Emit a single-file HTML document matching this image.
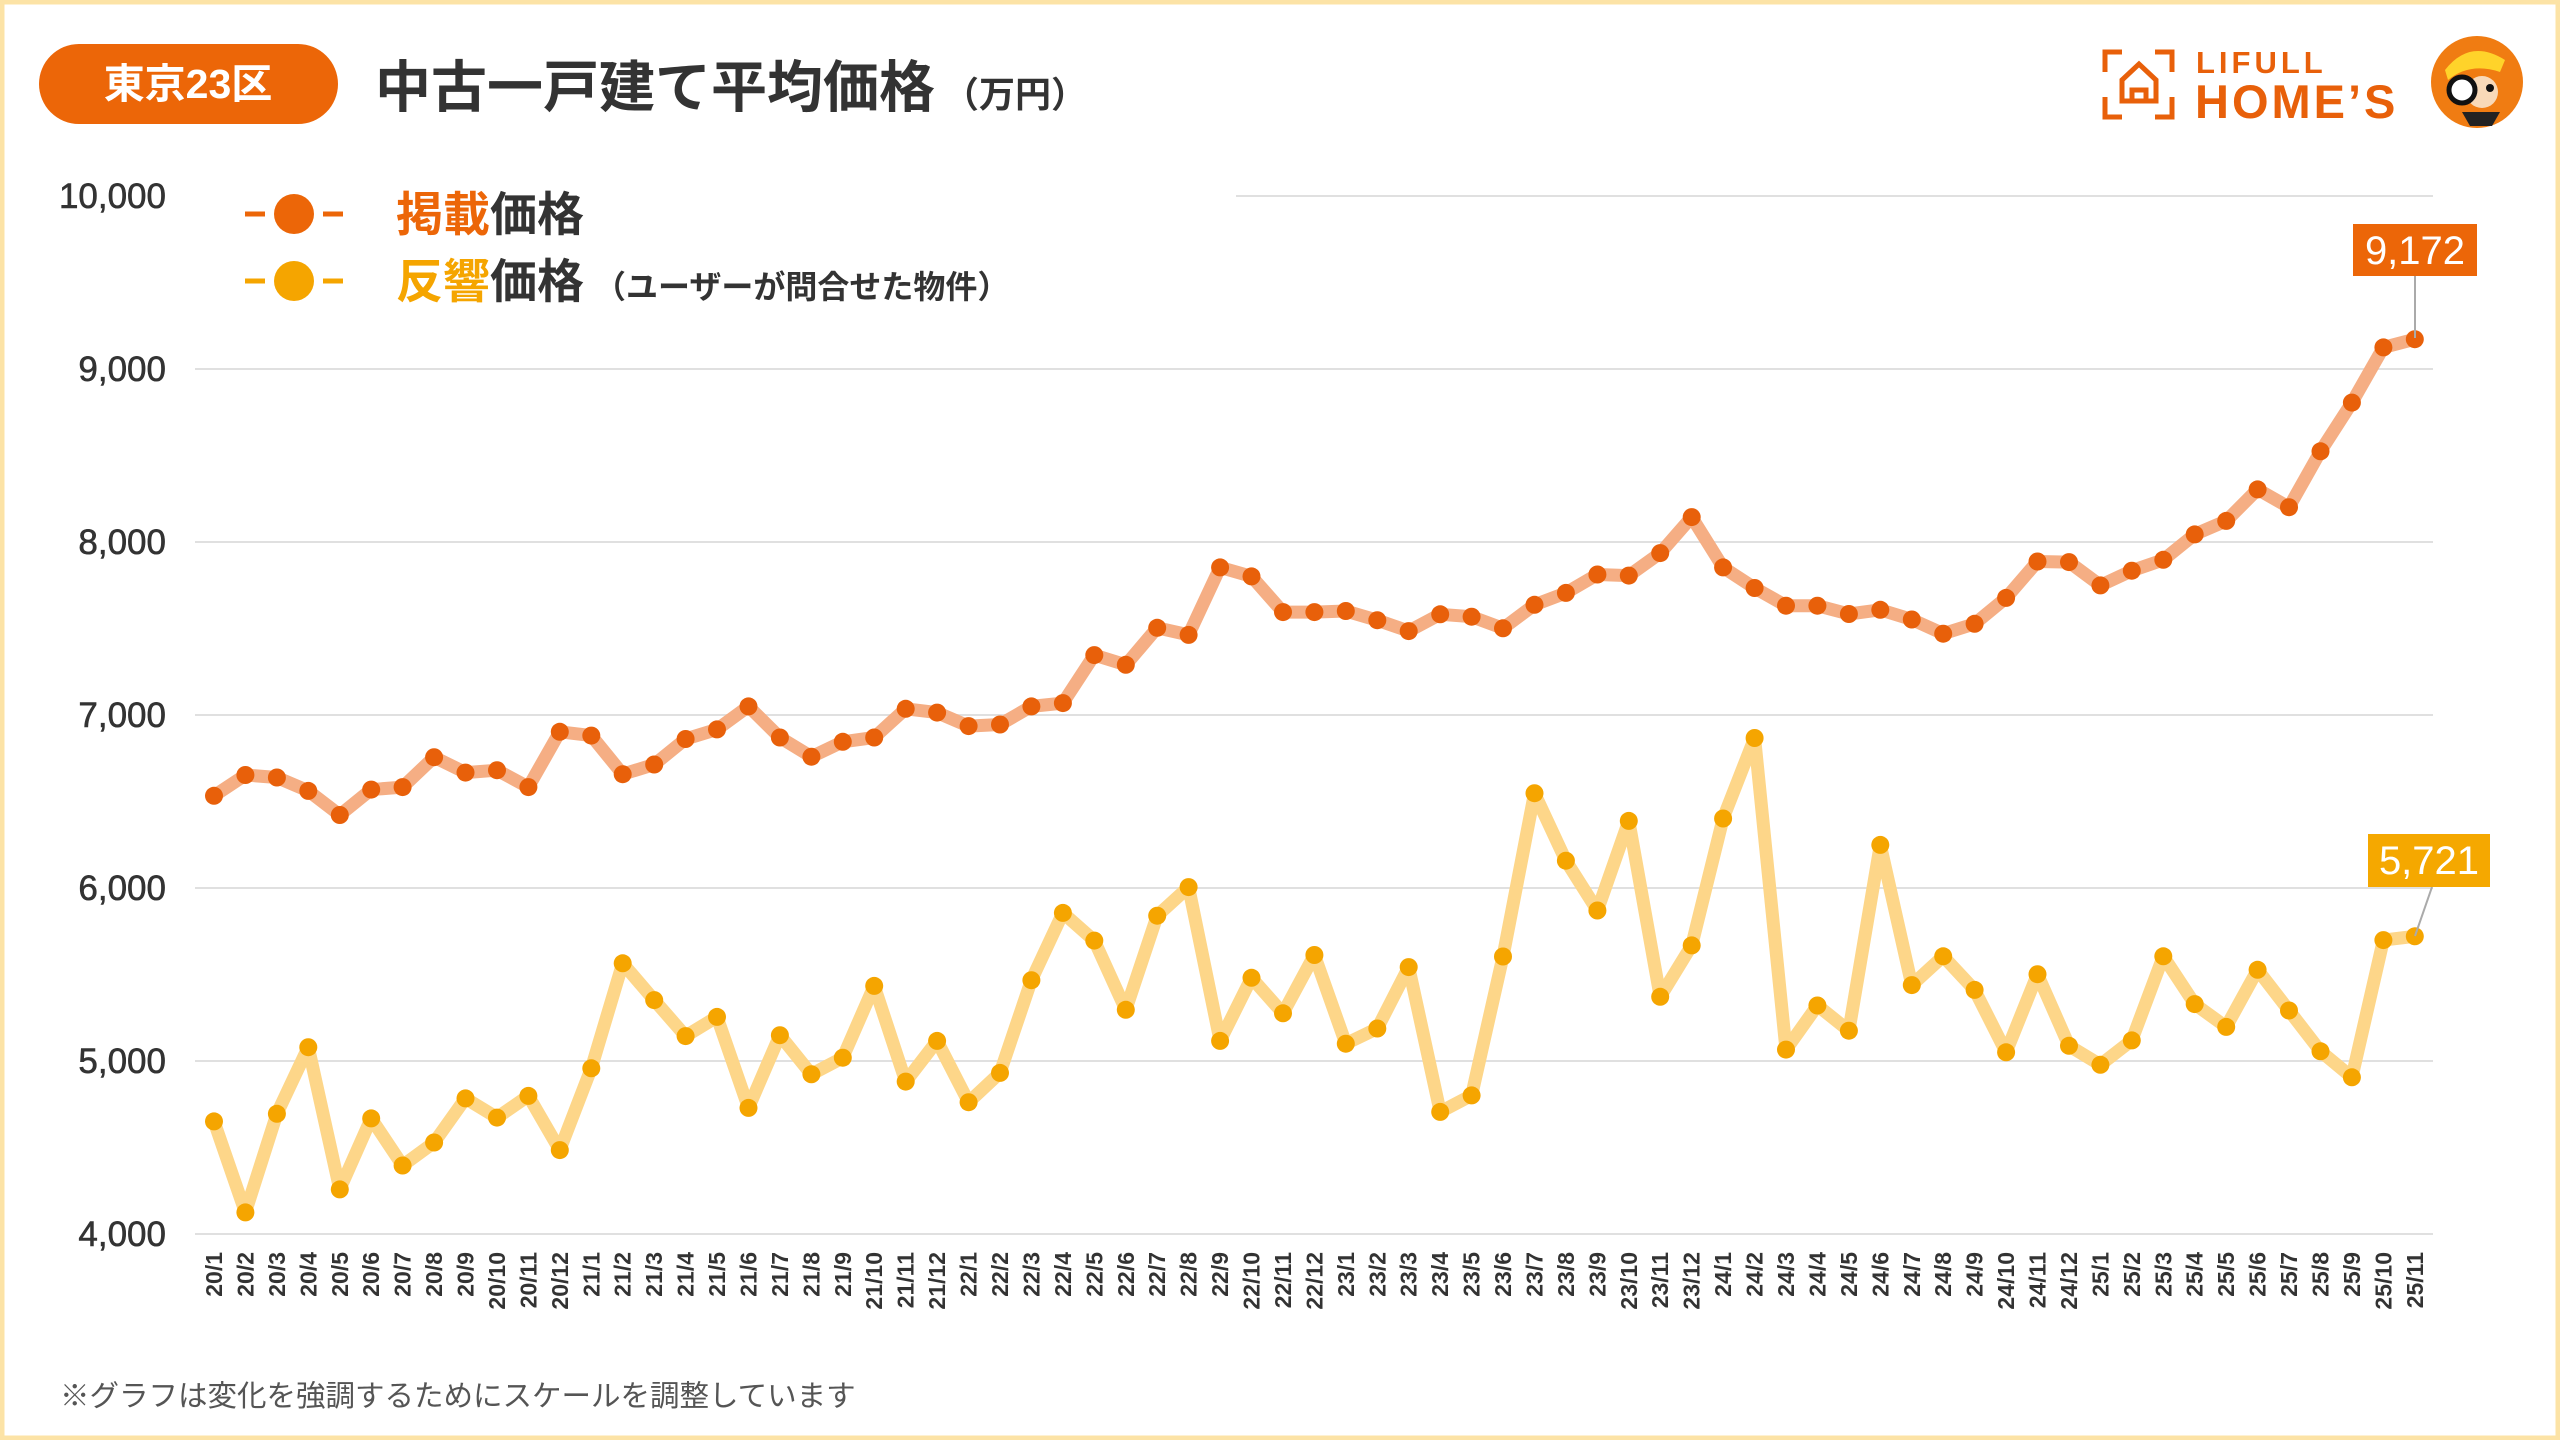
<!DOCTYPE html>
<html><head><meta charset="utf-8">
<style>
html,body{margin:0;padding:0;background:#fff;}
svg{display:block;}
.jp{font-family:"Liberation Sans","Noto Sans CJK JP",sans-serif;}
</style></head>
<body>
<svg width="2560" height="1440" viewBox="0 0 2560 1440" xmlns="http://www.w3.org/2000/svg">
<rect x="2" y="2" width="2556" height="1436" fill="#fff" stroke="#FCE3A6" stroke-width="5"/>
<!-- header -->
<rect x="39" y="44" width="299" height="80" rx="40" fill="#EC6608"/>
<text x="188" y="98" text-anchor="middle" class="jp" font-size="41" font-weight="bold" fill="#fff">東京23区</text>
<text x="375" y="107" class="jp" font-size="56" font-weight="bold" fill="#333">中古一戸建て平均価格<tspan font-size="36" dx="8">（万円）</tspan></text>
<!-- logo -->
<g fill="none" stroke="#E8600A" stroke-width="5">
<path d="M2105 72 V52 H2122"/><path d="M2155 52 H2172 V72"/>
<path d="M2105 97 V117 H2122"/><path d="M2155 117 H2172 V97"/>
<path d="M2122 101 V80 L2139 64 L2156 80 V101 Z"/>
<path d="M2132 101 V90 H2146 V101"/>
</g>
<text x="2196" y="73" font-family="Liberation Sans,sans-serif" font-size="31" font-weight="bold" fill="#E8600A" letter-spacing="4">LIFULL</text>
<text x="2195" y="118" font-family="Liberation Sans,sans-serif" font-size="47" font-weight="bold" fill="#E8600A" letter-spacing="3">HOME’S</text>
<circle cx="2477" cy="82" r="46" fill="#F07C12"/>
<path d="M2445 70 Q2470 38 2505 60 L2500 72 Q2470 62 2448 80 Z" fill="#FFD32A"/>
<circle cx="2482" cy="92" r="16" fill="#F8D9B8"/>
<circle cx="2462" cy="90" r="13" fill="#fff" stroke="#111" stroke-width="5"/>
<circle cx="2490" cy="88" r="4" fill="#111"/>
<path d="M2462 112 L2500 112 L2492 126 L2470 126 Z" fill="#222"/>
<!-- grid -->
<g stroke="#E0E0E0" stroke-width="2">
<line x1="1236" y1="196" x2="2433" y2="196"/>
<line x1="195" y1="369" x2="2433" y2="369"/>
<line x1="195" y1="542" x2="2433" y2="542"/>
<line x1="195" y1="715" x2="2433" y2="715"/>
<line x1="195" y1="888" x2="2433" y2="888"/>
<line x1="195" y1="1061" x2="2433" y2="1061"/>
<line x1="195" y1="1234" x2="2433" y2="1234"/>
</g>
<g font-family="Liberation Sans,sans-serif" font-size="35" fill="#333" stroke="#333" stroke-width="0.6" text-anchor="end">
<text x="166" y="208">10,000</text>
<text x="166" y="381">9,000</text>
<text x="166" y="554">8,000</text>
<text x="166" y="727">7,000</text>
<text x="166" y="900">6,000</text>
<text x="166" y="1073">5,000</text>
<text x="166" y="1246">4,000</text>
</g>
<!-- legend -->
<g stroke-width="5">
<line x1="245" y1="214" x2="265" y2="214" stroke="#EC6608"/><line x1="323" y1="214" x2="343" y2="214" stroke="#EC6608"/>
<line x1="245" y1="281" x2="265" y2="281" stroke="#F5A500"/><line x1="323" y1="281" x2="343" y2="281" stroke="#F5A500"/>
</g>
<circle cx="294" cy="214" r="20" fill="#EC6608"/>
<circle cx="294" cy="281" r="20" fill="#F5A500"/>
<text x="396" y="231" class="jp" font-size="47" font-weight="bold" fill="#333"><tspan fill="#EC6608">掲載</tspan>価格</text>
<text x="396" y="298" class="jp" font-size="47" font-weight="bold" fill="#333"><tspan fill="#F5A500">反響</tspan>価格<tspan font-size="32" dx="10">（ユーザーが問合せた物件）</tspan></text>
<!-- series -->
<g id="series"></g>
<!-- labels -->
<line x1="2415" y1="276" x2="2415" y2="338" stroke="#aaa" stroke-width="2"/>
<rect x="2353" y="224" width="124" height="52" fill="#EC6608"/>
<text x="2415" y="264" text-anchor="middle" font-family="Liberation Sans,sans-serif" font-size="40" fill="#fff">9,172</text>
<line x1="2432" y1="887" x2="2415" y2="936" stroke="#aaa" stroke-width="2"/>
<rect x="2368" y="834" width="122" height="53" fill="#F5A800"/>
<text x="2429" y="874" text-anchor="middle" font-family="Liberation Sans,sans-serif" font-size="40" fill="#fff">5,721</text>
<!-- x labels -->
<g font-family="Liberation Sans,sans-serif" font-size="23" font-weight="bold" fill="#333" text-anchor="end">
<text transform="translate(214,1252) rotate(-90)" dy="8">20/1</text>
<text transform="translate(245.4,1252) rotate(-90)" dy="8">20/2</text>
<text transform="translate(276.9,1252) rotate(-90)" dy="8">20/3</text>
<text transform="translate(308.3,1252) rotate(-90)" dy="8">20/4</text>
<text transform="translate(339.8,1252) rotate(-90)" dy="8">20/5</text>
<text transform="translate(371.2,1252) rotate(-90)" dy="8">20/6</text>
<text transform="translate(402.6,1252) rotate(-90)" dy="8">20/7</text>
<text transform="translate(434.1,1252) rotate(-90)" dy="8">20/8</text>
<text transform="translate(465.5,1252) rotate(-90)" dy="8">20/9</text>
<text transform="translate(497,1252) rotate(-90)" dy="8">20/10</text>
<text transform="translate(528.4,1252) rotate(-90)" dy="8">20/11</text>
<text transform="translate(559.8,1252) rotate(-90)" dy="8">20/12</text>
<text transform="translate(591.3,1252) rotate(-90)" dy="8">21/1</text>
<text transform="translate(622.7,1252) rotate(-90)" dy="8">21/2</text>
<text transform="translate(654.2,1252) rotate(-90)" dy="8">21/3</text>
<text transform="translate(685.6,1252) rotate(-90)" dy="8">21/4</text>
<text transform="translate(717,1252) rotate(-90)" dy="8">21/5</text>
<text transform="translate(748.5,1252) rotate(-90)" dy="8">21/6</text>
<text transform="translate(779.9,1252) rotate(-90)" dy="8">21/7</text>
<text transform="translate(811.4,1252) rotate(-90)" dy="8">21/8</text>
<text transform="translate(842.8,1252) rotate(-90)" dy="8">21/9</text>
<text transform="translate(874.2,1252) rotate(-90)" dy="8">21/10</text>
<text transform="translate(905.7,1252) rotate(-90)" dy="8">21/11</text>
<text transform="translate(937.1,1252) rotate(-90)" dy="8">21/12</text>
<text transform="translate(968.6,1252) rotate(-90)" dy="8">22/1</text>
<text transform="translate(1000,1252) rotate(-90)" dy="8">22/2</text>
<text transform="translate(1031.4,1252) rotate(-90)" dy="8">22/3</text>
<text transform="translate(1062.9,1252) rotate(-90)" dy="8">22/4</text>
<text transform="translate(1094.3,1252) rotate(-90)" dy="8">22/5</text>
<text transform="translate(1125.8,1252) rotate(-90)" dy="8">22/6</text>
<text transform="translate(1157.2,1252) rotate(-90)" dy="8">22/7</text>
<text transform="translate(1188.6,1252) rotate(-90)" dy="8">22/8</text>
<text transform="translate(1220.1,1252) rotate(-90)" dy="8">22/9</text>
<text transform="translate(1251.5,1252) rotate(-90)" dy="8">22/10</text>
<text transform="translate(1283,1252) rotate(-90)" dy="8">22/11</text>
<text transform="translate(1314.4,1252) rotate(-90)" dy="8">22/12</text>
<text transform="translate(1345.8,1252) rotate(-90)" dy="8">23/1</text>
<text transform="translate(1377.3,1252) rotate(-90)" dy="8">23/2</text>
<text transform="translate(1408.7,1252) rotate(-90)" dy="8">23/3</text>
<text transform="translate(1440.2,1252) rotate(-90)" dy="8">23/4</text>
<text transform="translate(1471.6,1252) rotate(-90)" dy="8">23/5</text>
<text transform="translate(1503,1252) rotate(-90)" dy="8">23/6</text>
<text transform="translate(1534.5,1252) rotate(-90)" dy="8">23/7</text>
<text transform="translate(1565.9,1252) rotate(-90)" dy="8">23/8</text>
<text transform="translate(1597.4,1252) rotate(-90)" dy="8">23/9</text>
<text transform="translate(1628.8,1252) rotate(-90)" dy="8">23/10</text>
<text transform="translate(1660.2,1252) rotate(-90)" dy="8">23/11</text>
<text transform="translate(1691.7,1252) rotate(-90)" dy="8">23/12</text>
<text transform="translate(1723.1,1252) rotate(-90)" dy="8">24/1</text>
<text transform="translate(1754.6,1252) rotate(-90)" dy="8">24/2</text>
<text transform="translate(1786,1252) rotate(-90)" dy="8">24/3</text>
<text transform="translate(1817.4,1252) rotate(-90)" dy="8">24/4</text>
<text transform="translate(1848.9,1252) rotate(-90)" dy="8">24/5</text>
<text transform="translate(1880.3,1252) rotate(-90)" dy="8">24/6</text>
<text transform="translate(1911.8,1252) rotate(-90)" dy="8">24/7</text>
<text transform="translate(1943.2,1252) rotate(-90)" dy="8">24/8</text>
<text transform="translate(1974.6,1252) rotate(-90)" dy="8">24/9</text>
<text transform="translate(2006.1,1252) rotate(-90)" dy="8">24/10</text>
<text transform="translate(2037.5,1252) rotate(-90)" dy="8">24/11</text>
<text transform="translate(2069,1252) rotate(-90)" dy="8">24/12</text>
<text transform="translate(2100.4,1252) rotate(-90)" dy="8">25/1</text>
<text transform="translate(2131.8,1252) rotate(-90)" dy="8">25/2</text>
<text transform="translate(2163.3,1252) rotate(-90)" dy="8">25/3</text>
<text transform="translate(2194.7,1252) rotate(-90)" dy="8">25/4</text>
<text transform="translate(2226.2,1252) rotate(-90)" dy="8">25/5</text>
<text transform="translate(2257.6,1252) rotate(-90)" dy="8">25/6</text>
<text transform="translate(2289,1252) rotate(-90)" dy="8">25/7</text>
<text transform="translate(2320.5,1252) rotate(-90)" dy="8">25/8</text>
<text transform="translate(2351.9,1252) rotate(-90)" dy="8">25/9</text>
<text transform="translate(2383.4,1252) rotate(-90)" dy="8">25/10</text>
<text transform="translate(2414.8,1252) rotate(-90)" dy="8">25/11</text>
</g>
<text x="60" y="1406" class="jp" font-size="29.5" fill="#555">※グラフは変化を強調するためにスケールを調整しています</text>
</svg>
<script>
var A=[6533,6653,6639,6561,6422,6569,6583,6756,6667,6681,6583,6903,6881,6658,6714,6861,6917,7050,6870,6759,6845,6870,7036,7014,6936,6945,7050,7069,7346,7290,7504,7463,7853,7801,7595,7595,7601,7548,7485,7582,7568,7501,7637,7706,7812,7806,7936,8144,7853,7734,7632,7632,7584,7608,7552,7470,7527,7677,7887,7884,7749,7834,7897,8044,8122,8304,8201,8524,8806,9125,9172];
var B=[4651,4125,4695,5080,4258,4668,4396,4529,4784,4673,4798,4485,4958,5565,5352,5144,5255,4729,5149,4923,5019,5434,4881,5116,4762,4931,5467,5856,5696,5296,5840,6005,5116,5481,5276,5613,5100,5188,5543,4706,4801,5604,6548,6158,5870,6388,5371,5668,6402,6867,5066,5321,5175,6249,5439,5605,5411,5050,5502,5088,4978,5119,5605,5329,5197,5527,5292,5056,4906,5699,5721];
var ns="http://www.w3.org/2000/svg",g=document.getElementById("series");
function draw(d,lc,dc){var p=[];for(var i=0;i<d.length;i++){p.push((214+31.44*i).toFixed(1)+","+(1234-(d[i]-4000)*0.173).toFixed(1));}
var pl=document.createElementNS(ns,"polyline");pl.setAttribute("points",p.join(" "));pl.setAttribute("fill","none");pl.setAttribute("stroke",lc);pl.setAttribute("stroke-width","13");pl.setAttribute("stroke-linejoin","round");g.appendChild(pl);
for(var i=0;i<p.length;i++){var c=document.createElementNS(ns,"circle");var xy=p[i].split(",");c.setAttribute("cx",xy[0]);c.setAttribute("cy",xy[1]);c.setAttribute("r","9");c.setAttribute("fill",dc);g.appendChild(c);}}
draw(B,"#FDD689","#F5A500");
draw(A,"#F5AE84","#E8600A");
</script>
</body></html>
